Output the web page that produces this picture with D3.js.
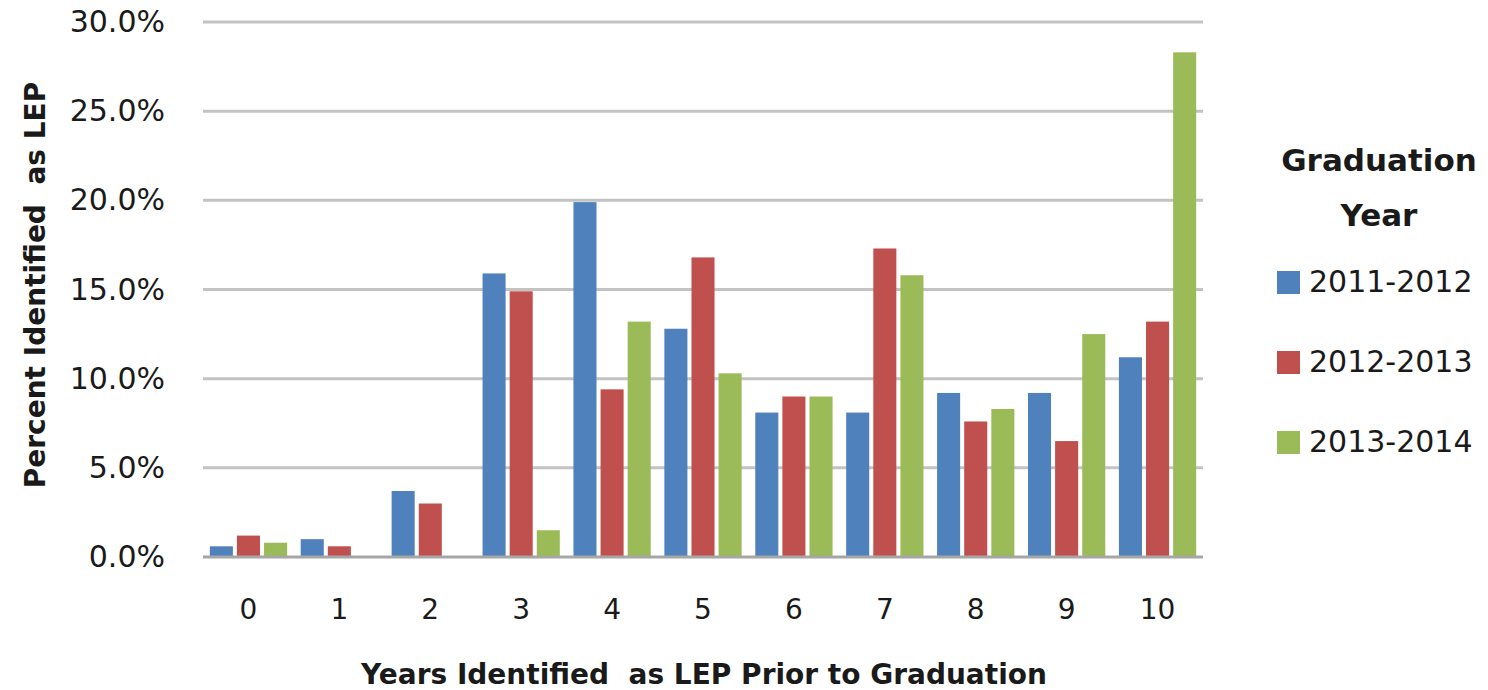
<!DOCTYPE html>
<html>
<head>
<meta charset="utf-8">
<script src="https://cdn.jsdelivr.net/npm/d3@7"></script>
<style>
  html, body { margin: 0; padding: 0; background: #ffffff; }
  svg text { font-family: "DejaVu Sans", sans-serif; fill: #1a1a1a; white-space: pre; }
</style>
</head>
<body>
<svg id="chart" width="1488" height="690"></svg>
<script>
// Years identified as LEP prior to graduation
const categories = ["0", "1", "2", "3", "4", "5", "6", "7", "8", "9", "10"];
const seriesNames = ["2011-2012", "2012-2013", "2013-2014"];
const seriesColors = ["#4f81bd", "#c0504d", "#9bbb59"];

// Percent identified as LEP, one array per graduation year
const values2011_2012 = [0.6, 1.0, 3.7, 15.9, 19.9, 12.8, 8.1, 8.1, 9.2, 9.2, 11.2];
const values2012_2013 = [1.2, 0.6, 3.0, 14.9, 9.4, 16.8, 9.0, 17.3, 7.6, 6.5, 13.2];
const values2013_2014 = [0.8, 0.0, 0.0, 1.5, 13.2, 10.3, 9.0, 15.8, 8.3, 12.5, 28.3];

const yTicks = [0, 5, 10, 15, 20, 25, 30];

const seriesValues = [values2011_2012, values2012_2013, values2013_2014];
const rows = categories.map((c, i) => ({
  cat: c,
  vals: seriesNames.map((s, k) => ({ series: s, k, v: seriesValues[k][i] }))
}));

const svg = d3.select("#chart");
const plot = { left: 203, right: 1203, top: 22, bottom: 557 };

const x0 = d3.scaleBand().domain(categories)
  .range([plot.left, plot.right]).paddingInner(0.15).paddingOuter(0.075);
const x1 = d3.scaleBand().domain(seriesNames)
  .range([0, x0.bandwidth()]).paddingInner(0.15);
const y = d3.scaleLinear().domain([0, 30]).range([plot.bottom, plot.top]);

// Horizontal gridlines
svg.append("g")
  .selectAll("line")
  .data(yTicks.filter(t => t > 0))
  .join("line")
  .attr("x1", plot.left).attr("x2", plot.right)
  .attr("y1", d => y(d)).attr("y2", d => y(d))
  .attr("stroke", "#c3c3c3").attr("stroke-width", 3);

// Y axis tick labels
const yAxis = d3.axisLeft(y).tickValues(yTicks)
  .tickFormat(d => d.toFixed(1) + "%").tickSize(0).tickPadding(0);
const yg = svg.append("g").attr("transform", `translate(${plot.left - 38},0)`).call(yAxis);
yg.select(".domain").remove();
yg.selectAll("text").attr("font-size", 30).attr("font-family", "DejaVu Sans").attr("fill", "#1a1a1a");

// Bars
svg.append("g")
  .selectAll("g")
  .data(rows)
  .join("g")
  .attr("transform", d => `translate(${x0(d.cat)},0)`)
  .selectAll("rect")
  .data(d => d.vals)
  .join("rect")
  .attr("x", d => x1(d.series))
  .attr("width", x1.bandwidth())
  .attr("y", d => y(d.v))
  .attr("height", d => y(0) - y(d.v))
  .attr("fill", d => seriesColors[d.k]);

// Baseline
svg.append("line")
  .attr("x1", plot.left).attr("x2", plot.right)
  .attr("y1", y(0)).attr("y2", y(0))
  .attr("stroke", "#a6a6a6").attr("stroke-width", 3);

// X axis tick labels
const xAxis = d3.axisBottom(x0).tickSize(0).tickPadding(0);
const xg = svg.append("g").attr("transform", `translate(0,${plot.bottom + 42})`).call(xAxis);
xg.select(".domain").remove();
xg.selectAll("text").attr("font-size", 28).attr("font-family", "DejaVu Sans").attr("fill", "#1a1a1a");

// Axis titles
svg.append("text")
  .attr("x", 704).attr("y", 684)
  .attr("text-anchor", "middle")
  .attr("font-size", 28).attr("font-weight", "bold")
  .text("Years Identified  as LEP Prior to Graduation");

svg.append("text")
  .attr("transform", "translate(45,285) rotate(-90)")
  .attr("text-anchor", "middle")
  .attr("font-size", 28).attr("font-weight", "bold")
  .text("Percent Identified  as LEP");

// Legend
const legend = svg.append("g");
legend.append("text")
  .attr("x", 1379).attr("y", 171)
  .attr("text-anchor", "middle").attr("font-size", 31).attr("font-weight", "bold")
  .text("Graduation");
legend.append("text")
  .attr("x", 1379).attr("y", 226)
  .attr("text-anchor", "middle").attr("font-size", 31).attr("font-weight", "bold")
  .text("Year");

const items = legend.selectAll("g.item")
  .data(seriesNames)
  .join("g")
  .attr("class", "item")
  .attr("transform", (d, i) => `translate(1277,${282 + i * 80})`);
items.append("rect")
  .attr("x", 0).attr("y", -11).attr("width", 23).attr("height", 23)
  .attr("fill", (d, i) => seriesColors[i]);
items.append("text")
  .attr("x", 32).attr("y", 1)
  .attr("dominant-baseline", "middle")
  .attr("font-size", 30)
  .text(d => d);
</script>
</body>
</html>
